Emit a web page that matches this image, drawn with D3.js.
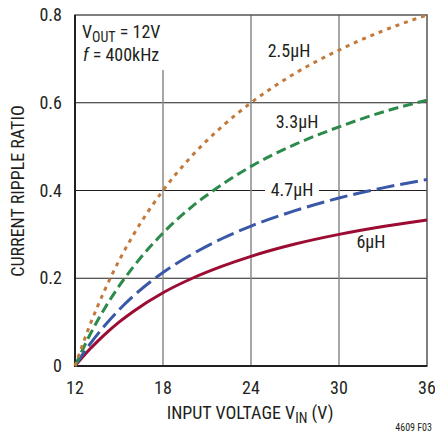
<!DOCTYPE html>
<html>
<head>
<meta charset="utf-8">
<script src="https://cdn.jsdelivr.net/npm/d3@7"></script>
<style>
  body { margin: 0; background: #fff; }
  text { font-family: "Liberation Sans Narrow", "Roboto Condensed", "Liberation Sans", sans-serif; fill: #231f20; }
</style>
</head>
<body>
<div id="chart"></div>
<script>
// input voltage samples (V)
var vin = [12, 13, 14, 15, 16, 18, 20, 22, 24, 27, 30, 33, 36];
// ripple ratio
var r25 = [0, 0.092, 0.171, 0.24, 0.30, 0.40, 0.48, 0.545, 0.60, 0.667, 0.72, 0.764, 0.80];
var r33 = [0, 0.070, 0.130, 0.182, 0.227, 0.303, 0.364, 0.413, 0.455, 0.505, 0.545, 0.579, 0.606];
var r47 = [0, 0.049, 0.091, 0.128, 0.160, 0.213, 0.255, 0.290, 0.319, 0.354, 0.383, 0.406, 0.425];
var r60 = [0, 0.038, 0.071, 0.100, 0.125, 0.167, 0.200, 0.227, 0.250, 0.278, 0.300, 0.318, 0.333];
var xTicks = [12, 18, 24, 30, 36];
var yTicks = [0, 0.2, 0.4, 0.6, 0.8];
var seriesNames = ["2.5µH", "3.3µH", "4.7µH", "6µH"];

var width = 435, height = 435;
var mLeft = 75, mTop = 15, plotW = 352, plotH = 351; // (window.top is taken)

var svg = d3.select("#chart").append("svg")
    .attr("width", width)
    .attr("height", height);

var x = d3.scaleLinear().domain([12, 36]).range([mLeft, mLeft + plotW]);
var y = d3.scaleLinear().domain([0, 0.8]).range([mTop + plotH, mTop]);

// grid: horizontal
svg.append("g").selectAll("line")
    .data(yTicks.slice(1, 4))
  .enter().append("line")
    .attr("x1", mLeft).attr("x2", mLeft + plotW)
    .attr("y1", function(d){ return y(d); })
    .attr("y2", function(d){ return y(d); })
    .attr("stroke", "#231f20")
    .attr("stroke-width", 1.2);

// grid: vertical (18V line stops under the note)
svg.append("g").selectAll("line")
    .data(xTicks.slice(1, 4))
  .enter().append("line")
    .attr("x1", function(d){ return x(d); })
    .attr("x2", function(d){ return x(d); })
    .attr("y1", function(d){ return d == 18 ? 70 : mTop; })
    .attr("y2", mTop + plotH)
    .attr("stroke", "#8a8a8a")
    .attr("stroke-width", 1.5);

// frame
svg.append("rect")
    .attr("x", mLeft).attr("y", mTop)
    .attr("width", plotW).attr("height", plotH)
    .attr("fill", "none")
    .attr("stroke", "#555")
    .attr("stroke-width", 1.5);
svg.append("path")
    .attr("d", "M" + mLeft + "," + mTop + "V" + (mTop + plotH) + "H" + (mLeft + plotW))
    .attr("fill", "none")
    .attr("stroke", "#231f20")
    .attr("stroke-width", 2);

// tick labels
svg.append("g").selectAll("text")
    .data(yTicks)
  .enter().append("text")
    .attr("x", 62)
    .attr("y", function(d){ return y(d) + 6; })
    .attr("text-anchor", "end")
    .attr("font-size", "18px")
    .text(function(d){ return d == 0 ? "0" : d3.format(".1f")(d); });

svg.append("g").selectAll("text")
    .data(xTicks)
  .enter().append("text")
    .attr("x", function(d){ return x(d); })
    .attr("y", 394)
    .attr("text-anchor", "middle")
    .attr("font-size", "18px")
    .text(function(d){ return d; });

// axis titles
var xt = svg.append("text")
    .attr("x", 250).attr("y", 419)
    .attr("text-anchor", "middle")
    .attr("font-size", "18px");
xt.append("tspan").text("INPUT VOLTAGE V");
xt.append("tspan").attr("font-size", "14px").attr("dy", 4).text("IN");
xt.append("tspan").attr("dy", -4).text(" (V)");

svg.append("text")
    .attr("transform", "translate(24,191) rotate(-90)")
    .attr("text-anchor", "middle")
    .attr("font-size", "18px")
    .text("CURRENT RIPPLE RATIO");

svg.append("text")
    .attr("x", 432).attr("y", 431)
    .attr("text-anchor", "end")
    .attr("font-size", "10px")
    .text("4609 F03");

// note
var n1 = svg.append("text").attr("x", 82).attr("y", 38).attr("font-size", "18px");
n1.append("tspan").text("V");
n1.append("tspan").attr("font-size", "14px").attr("dy", 4).text("OUT");
n1.append("tspan").attr("dy", -4).text(" = 12V");
var n2 = svg.append("text").attr("x", 83).attr("y", 61).attr("font-size", "18px");
n2.append("tspan").attr("font-style", "italic").text("f");
n2.append("tspan").text(" = 400kHz");

// curves
var series = [
  { name: seriesNames[0], vals: r25, color: "#c27a3c", dash: "4,5", lx: 289, ly: 57 },
  { name: seriesNames[1], vals: r33, color: "#2c8a4b", dash: "10,5", lx: 297, ly: 128 },
  { name: seriesNames[2], vals: r47, color: "#3a58a8", dash: "18,6", lx: 292, ly: 196 },
  { name: seriesNames[3], vals: r60, color: "#9b0b32", dash: null, lx: 371, ly: 248 }
];

var line = d3.line()
    .x(function(d){ return x(d[0]); })
    .y(function(d){ return y(d[1]); })
    .curve(d3.curveMonotoneX);

svg.append("g").selectAll("path")
    .data(series.slice().reverse())
  .enter().append("path")
    .attr("d", function(s){ return line(d3.zip(vin, s.vals)); })
    .attr("fill", "none")
    .attr("stroke", function(s){ return s.color; })
    .attr("stroke-width", 3)
    .attr("stroke-dasharray", function(s){ return s.dash; });

// curve labels (4.7µH sits on the grid line, so it gets a white box)
var labels = svg.append("g").selectAll("g")
    .data(series)
  .enter().append("g");
labels.filter(function(s){ return s.name == "4.7µH"; })
  .append("rect")
    .attr("x", function(s){ return s.lx - 27; })
    .attr("y", function(s){ return s.ly - 14; })
    .attr("width", 54).attr("height", 16)
    .attr("fill", "#fff");
labels.append("text")
    .attr("x", function(s){ return s.lx; })
    .attr("y", function(s){ return s.ly; })
    .attr("text-anchor", "middle")
    .attr("font-size", "18px")
    .text(function(s){ return s.name; });
</script>
</body>
</html>
